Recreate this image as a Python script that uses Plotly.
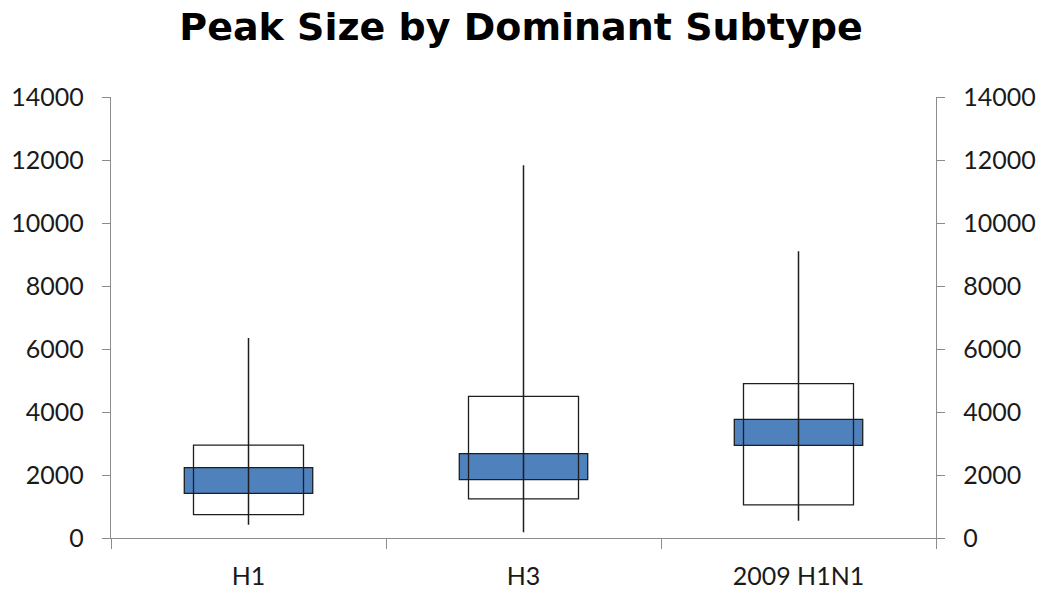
import plotly.graph_objects as go

categories = ["H1", "H3", "2009 H1N1"]
whisker_low = [420, 180, 550]
whisker_high = [6350, 11830, 9100]
box_low = [740, 1240, 1050]
box_high = [2950, 4495, 4898]
mid_low = [1416, 1851, 2940]
mid_high = [2232, 2676, 3765]
y_ticks = [0, 2000, 4000, 6000, 8000, 10000, 12000, 14000]

x_pos = [i + 0.5 for i in range(len(categories))]

FONT = "Lato"
AXIS_COL = "#8c8c8c"
EDGE = "#1e1e1e"

fig = go.Figure()

# blue middle band
fig.add_trace(go.Bar(
    x=x_pos, base=mid_low, y=[h - l for h, l in zip(mid_high, mid_low)],
    width=0.467, marker=dict(color="#4f81bd", line=dict(color=EDGE, width=1.3)),
    showlegend=False, hoverinfo="skip"))

# white (transparent) outer box
fig.add_trace(go.Bar(
    x=x_pos, base=box_low, y=[h - l for h, l in zip(box_high, box_low)],
    width=0.4, marker=dict(color="rgba(0,0,0,0)", line=dict(color=EDGE, width=1.3)),
    showlegend=False, hoverinfo="skip"))

# whiskers
wx, wy = [], []
for x, lo, hi in zip(x_pos, whisker_low, whisker_high):
    wx += [x, x, None]
    wy += [lo, hi, None]
fig.add_trace(go.Scatter(x=wx, y=wy, mode="lines",
                         line=dict(color=EDGE, width=1.5),
                         showlegend=False, hoverinfo="skip"))

# invisible trace for right axis
fig.add_trace(go.Scatter(x=[x_pos[0]], y=[0], yaxis="y2", mode="markers",
                         marker=dict(opacity=0), showlegend=False, hoverinfo="skip"))

tick_font = dict(family=FONT, size=25, color="#1a1a1a")
ytext = [str(v) for v in y_ticks]

yax_common = dict(range=[0, 14000], tickmode="array", tickvals=y_ticks, ticktext=ytext,
                  ticks="outside", ticklen=8, tickcolor=AXIS_COL, tickwidth=1.3,
                  showgrid=False, zeroline=False, showline=True, linecolor=AXIS_COL,
                  linewidth=1.3, tickfont=tick_font, ticklabelstandoff=13,
                  automargin=False)

fig.update_layout(
    width=1042, height=595,
    margin=dict(l=111, r=106, t=97, b=57),
    paper_bgcolor="white", plot_bgcolor="white",
    barmode="overlay",
    title=dict(text="<b>Peak Size by Dominant Subtype</b>",
               font=dict(family="DejaVu Sans", size=38, color="black"),
               x=0.5, xanchor="center", y=0.955, yanchor="middle"),
    xaxis=dict(range=[0, 3], tickmode="array", tickvals=x_pos, ticktext=categories,
               ticks="", showgrid=False, zeroline=False,
               showline=True, linecolor=AXIS_COL, linewidth=1.3,
               tickfont=tick_font, ticklabelstandoff=16, automargin=False,
               minor=dict(tickmode="array", tickvals=[0, 1, 2, 3], ticks="outside",
                          ticklen=10, tickcolor=AXIS_COL, tickwidth=1.3, showgrid=False)),
    yaxis=yax_common,
    yaxis2=dict(overlaying="y", side="right", **yax_common),
)

fig.write_html("out.html", config={"displayModeBar": False},
               post_script="document.body.style.margin='0';")
